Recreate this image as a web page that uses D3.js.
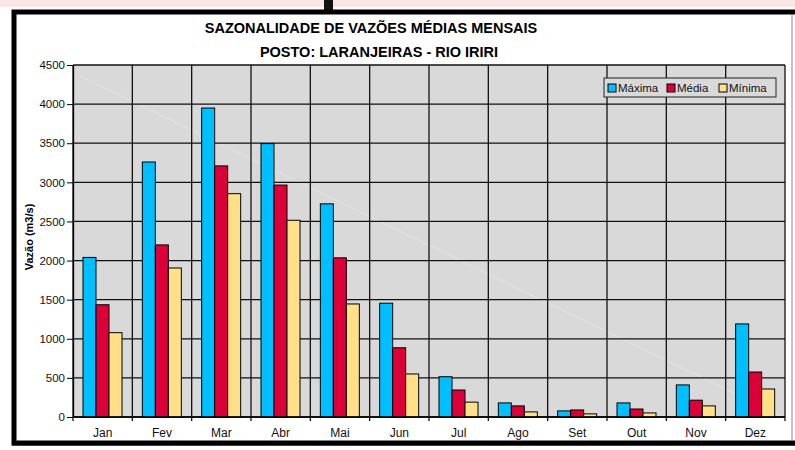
<!DOCTYPE html>
<html>
<head>
<meta charset="utf-8">
<script src="https://cdn.jsdelivr.net/npm/d3@7"></script>
<style>
  body { margin: 0; background: #fff; }
  svg { display: block; font-family: "Liberation Sans", Arial, sans-serif; }
</style>
</head>
<body>
<svg id="chart" width="795" height="450"></svg>
<script>
// dados
const months = ["Jan", "Fev", "Mar", "Abr", "Mai", "Jun", "Jul", "Ago", "Set", "Out", "Nov", "Dez"];
const series = ["Máxima", "Média", "Mínima"];
const maxima = [2040, 3260, 3950, 3495, 2725, 1455, 515, 180, 78, 180, 410, 1190];
const media = [1435, 2200, 3210, 2965, 2035, 885, 345, 142, 90, 102, 215, 575];
const minima = [1078, 1905, 2855, 2515, 1445, 550, 190, 65, 40, 52, 142, 358];
const yTicks = [0, 500, 1000, 1500, 2000, 2500, 3000, 3500, 4000, 4500];
const colors = ["#00bfff", "#dc0039", "#ffdf88"];

const svg = d3.select("#chart");

// moldura
svg.append("rect").attr("x", 0).attr("y", 0).attr("width", 795).attr("height", 7).attr("fill", "#fbe6e6");
svg.append("rect").attr("x", 324).attr("y", 0).attr("width", 9).attr("height", 12).attr("fill", "#111");
svg.append("rect").attr("x", 14).attr("y", 12).attr("width", 790).attr("height", 431)
    .attr("fill", "#fff").attr("stroke", "#000").attr("stroke-width", 5);
svg.append("line").attr("x1", 12).attr("x2", 795).attr("y1", 444).attr("y2", 444)
    .attr("stroke", "#000").attr("stroke-width", 3);
svg.append("line").attr("x1", 792).attr("x2", 792).attr("y1", 14).attr("y2", 440)
    .attr("stroke", "#888").attr("stroke-width", 1);

const pLeft = 73, pRight = 785, pTop = 65, pBottom = 417;

const x = d3.scaleBand().domain(months).range([pLeft, pRight]).padding(0);
const xs = d3.scaleBand().domain(series).range([10, 49]).padding(0);
const y = d3.scaleLinear().domain([0, 4500]).range([pBottom, pTop]);

// fundo da area
svg.append("rect").attr("x", pLeft).attr("y", pTop).attr("width", pRight - pLeft).attr("height", pBottom - pTop)
    .attr("fill", "#d9d9d9");

// linha clara diagonal (artefato)
svg.append("line").attr("x1", 80).attr("y1", 76).attr("x2", 783).attr("y2", 417)
    .attr("stroke", "#fff").attr("stroke-opacity", 0.35).attr("stroke-width", 0.7);

// grade
svg.append("g").selectAll("line").data(yTicks).enter().append("line")
    .attr("x1", pLeft).attr("x2", pRight)
    .attr("y1", d => y(d)).attr("y2", d => y(d))
    .attr("stroke", "#111").attr("stroke-width", 1.3);

const bounds = months.map(m => x(m)).concat([pRight]);
svg.append("g").selectAll("line").data(bounds).enter().append("line")
    .attr("x1", d => d).attr("x2", d => d)
    .attr("y1", pTop).attr("y2", pBottom + 4)
    .attr("stroke", "#111").attr("stroke-width", 1.3);

// barras
const rows = [];
months.forEach((m, i) => {
    [maxima[i], media[i], minima[i]].forEach((v, j) => {
        rows.push({ month: m, s: series[j], value: v, c: colors[j] });
    });
});

svg.append("g").selectAll("rect").data(rows).enter().append("rect")
    .attr("x", d => x(d.month) + xs(d.s))
    .attr("y", d => y(d.value))
    .attr("width", xs.bandwidth())
    .attr("height", d => y(0) - y(d.value))
    .attr("fill", d => d.c)
    .attr("stroke", "#000").attr("stroke-width", 1);

// eixo y
const yAxis = svg.append("g").attr("transform", `translate(${pLeft},0)`)
    .call(d3.axisLeft(y).tickValues(yTicks).tickFormat(d3.format("d")).tickSize(6).tickPadding(2).tickSizeOuter(0));
yAxis.select(".domain").attr("stroke", "#000").attr("stroke-width", 1.3);
yAxis.selectAll("line").attr("stroke", "#000");
yAxis.selectAll("text").style("font-size", "11.5px").style("fill", "#111")
    .style("font-family", "'Liberation Sans', Arial, sans-serif");

// eixo x
svg.append("line").attr("x1", pLeft).attr("x2", pRight).attr("y1", pBottom).attr("y2", pBottom)
    .attr("stroke", "#000").attr("stroke-width", 1.5);
svg.append("g").selectAll("text").data(months).enter().append("text")
    .attr("x", d => x(d) + x.bandwidth() / 2)
    .attr("y", 437)
    .attr("text-anchor", "middle")
    .style("font-size", "12px").style("fill", "#111")
    .text(d => d);

// rotulo eixo y
svg.append("text")
    .attr("transform", "translate(33,237) rotate(-90)")
    .attr("text-anchor", "middle")
    .style("font-size", "11px").style("font-weight", "bold")
    .text("Vazão (m3/s)");

// titulo
svg.append("text").attr("x", 371).attr("y", 33).attr("text-anchor", "middle")
    .style("font-size", "14.5px").style("font-weight", "bold")
    .text("SAZONALIDADE DE VAZÕES MÉDIAS MENSAIS");
svg.append("text").attr("x", 379).attr("y", 57).attr("text-anchor", "middle")
    .style("font-size", "14.5px").style("font-weight", "bold")
    .text("POSTO: LARANJEIRAS - RIO IRIRI");

// legenda
const legend = svg.append("g");
legend.append("rect").attr("x", 604).attr("y", 78).attr("width", 172).attr("height", 19)
    .attr("fill", "#d9d9d9").attr("stroke", "#222").attr("stroke-width", 1);
const legX = [608, 667, 719];
series.forEach((s, i) => {
    legend.append("rect").attr("x", legX[i]).attr("y", 84).attr("width", 8).attr("height", 8)
        .attr("fill", colors[i]).attr("stroke", "#000");
    legend.append("text").attr("x", legX[i] + 10).attr("y", 92)
        .style("font-size", "11.5px").style("fill", "#111").text(s);
});
</script>
</body>
</html>
